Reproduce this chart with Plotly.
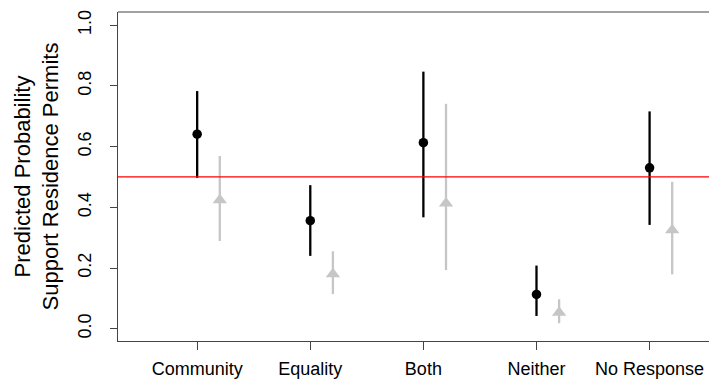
import plotly.graph_objects as go

categories = ["Community", "Equality", "Both", "Neither", "No Response"]
black_est = [0.641, 0.356, 0.613, 0.113, 0.530]
black_lo = [0.497, 0.240, 0.367, 0.042, 0.342]
black_hi = [0.783, 0.473, 0.847, 0.208, 0.716]
gray_est = [0.424, 0.180, 0.413, 0.053, 0.325]
gray_lo = [0.289, 0.114, 0.193, 0.018, 0.179]
gray_hi = [0.569, 0.255, 0.741, 0.097, 0.484]
y_ticks = [0.0, 0.2, 0.4, 0.6, 0.8, 1.0]
reference_line = 0.5
offset = 0.2

xpos = list(range(1, len(categories) + 1))
FONT = "Liberation Sans, Arial, Helvetica, sans-serif"
GRAY = "#c6c6c6"

fig = go.Figure()
fig.add_trace(go.Scatter(
    x=xpos, y=black_est, mode="markers",
    marker=dict(symbol="circle", size=9.5, color="black"),
    error_y=dict(type="data", symmetric=False,
                 array=[h - e for h, e in zip(black_hi, black_est)],
                 arrayminus=[e - l for e, l in zip(black_est, black_lo)],
                 color="black", thickness=2.3, width=0),
    showlegend=False, hoverinfo="skip"))
fig.add_trace(go.Scatter(
    x=[p + offset for p in xpos], y=gray_est, mode="markers",
    marker=dict(symbol="triangle-up", size=12.5, color=GRAY),
    error_y=dict(type="data", symmetric=False,
                 array=[h - e for h, e in zip(gray_hi, gray_est)],
                 arrayminus=[e - l for e, l in zip(gray_est, gray_lo)],
                 color=GRAY, thickness=2.3, width=0),
    showlegend=False, hoverinfo="skip"))

fig.add_shape(type="line", xref="paper", x0=0, x1=1, yref="y",
              y0=reference_line, y1=reference_line,
              line=dict(color="red", width=1.2))
fig.add_shape(type="line", xref="paper", x0=0, x1=1, yref="paper",
              y0=1, y1=1, line=dict(color="#444", width=1.2))

fig.update_layout(
    width=709, height=371,
    margin=dict(l=110, r=0, t=4, b=38),
    plot_bgcolor="white", paper_bgcolor="white",
    font=dict(family=FONT, color="black"),
    xaxis=dict(range=[0.3, 5.596], tickmode="array", tickvals=xpos,
               ticktext=categories, showgrid=False, zeroline=False,
               showline=True, linecolor="#444", linewidth=1.2,
               ticks="outside", ticklen=8, tickcolor="#444", tickwidth=1,
               ticklabelstandoff=3,
               tickfont=dict(size=18, family=FONT)),
    yaxis=dict(range=[-0.0405, 1.0435], tickmode="array", tickvals=y_ticks,
               ticktext=[f"{v:.1f}" for v in y_ticks], tickangle=-90,
               showgrid=False, zeroline=False, showline=True,
               linecolor="#444", linewidth=1.2,
               ticks="outside", ticklen=7, tickcolor="#444", tickwidth=1,
               ticklabelstandoff=12,
               tickfont=dict(size=18, family=FONT),
               title=dict(text="Predicted Probability<br>Support Residence Permits",
                          font=dict(size=22, family=FONT), standoff=9)),
)

fig.write_html("out.html")
